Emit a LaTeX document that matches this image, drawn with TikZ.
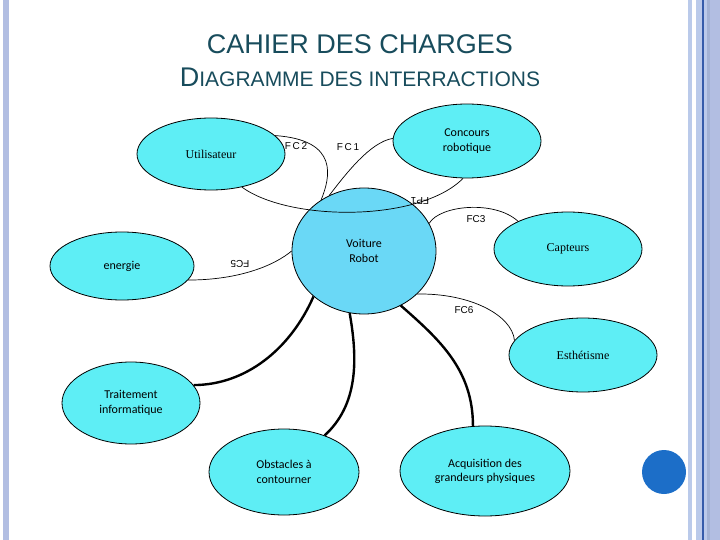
\documentclass[tikz,border=0pt]{standalone}
\usepackage{fontspec}
\setmainfont{Liberation Sans}
\newfontfamily\calfont{Carlito}
\newfontfamily\timesfont{Liberation Serif}
\usetikzlibrary{shapes.geometric}

\definecolor{titleteal}{RGB}{24,76,92}
\definecolor{ellcyan}{RGB}{94,238,245}
\definecolor{robotblue}{RGB}{106,216,246}
\definecolor{dotblue}{RGB}{28,110,200}
\definecolor{barblue}{RGB}{178,190,226}
\definecolor{barlight}{RGB}{186,202,234}
\definecolor{bardark}{RGB}{52,92,170}
\definecolor{bargrey}{RGB}{162,178,212}

\tikzset{
  actor/.style={ellipse, draw, line width=0.8pt, fill=ellcyan, inner sep=0pt, align=center,
    font=\calfont\fontsize{12}{15}\selectfont},
  serifactor/.style={actor, font=\timesfont\fontsize{12}{14}\selectfont},
  dims/.style 2 args={minimum width=#1, minimum height=#2},
  link/.style={line width=0.7pt},
  heavylink/.style={line width=2.4pt},
  fclabel/.style={font=\fontsize{10}{12}\selectfont, inner sep=1pt}
}

\begin{document}
\begin{tikzpicture}[x=1pt, y=-1pt]
  \useasboundingbox (0,0) rectangle (720,540);

  % slide borders
  \fill[barblue] (3,0) rectangle (9,540);
  \fill[barlight] (688,0) rectangle (692,540);
  \fill[barlight] (696,0) rectangle (702,540);
  \fill[bardark] (702,0) rectangle (703.5,540);
  \fill[barlight] (703.5,0) rectangle (707,540);
  \fill[bargrey] (707,0) rectangle (710,540);
  \fill[barblue] (710,0) rectangle (720,540);

  % title
  \node[anchor=base, text=titleteal, font=\fontsize{27}{32}\selectfont] (title) at (360,54)
    {CAHIER DES CHARGES};
  \node[anchor=base, text=titleteal, font=\fontsize{27}{32}\selectfont] (subtitle) at (360,87)
    {D{\fontsize{21}{25}\selectfont IAGRAMME DES INTERRACTIONS}};

  % the system
  \node[actor, fill=robotblue, dims={144pt}{126pt}] (robot) at (364,251) {Voiture\\Robot};

  % surrounding elements
  \node[serifactor, dims={148pt}{72pt}] (user) at (211,154) {Utilisateur};
  \node[actor, dims={148pt}{74pt}] (contest) at (467,141) {Concours\\robotique};
  \node[actor, dims={144pt}{68pt}] (energy) at (122,266) {energie};
  \node[serifactor, dims={148pt}{74pt}] (sensors) at (568,249) {Capteurs};
  \node[serifactor, dims={148pt}{74pt}] (looks) at (583,355) {Esth\'etisme};
  \node[actor, dims={138pt}{82pt}] (compute) at (131,403) {Traitement\\informatique};
  \node[actor, dims={150pt}{86pt}] (obstacles) at (284,472) {Obstacles \`a\\contourner};
  \node[actor, dims={170pt}{90pt}, font=\calfont\fontsize{12}{14}\selectfont] (acquire) at (485,471)
    {Acquisition des\\grandeurs physiques};

  % blue dot
  \node[circle, fill=dotblue, minimum size=44pt, inner sep=0pt] (dot) at (664,472) {};

  % functions
  \draw[link] (user.16) .. controls (340,140) and (330,178) .. (robot.130);
  \node[fclabel] (fc2) at (296,146) {F\,C\,2};
  \draw[link] (contest.178) .. controls (370,142) and (345,175) .. (robot.122);
  \node[fclabel] (fc1) at (348,147) {F\,C\,1};
  \draw[link] (user.-47) .. controls (290,222) and (420,222) .. (contest.-96);
  \node[fclabel, rotate=180] (fp1) at (420,201) {FP1};
  \draw[link] (robot.23) .. controls (440,205) and (495,200) .. (sensors.151);
  \node[fclabel] (fc3) at (476,219) {FC3};
  \draw[link] (robot.-39) .. controls (470,293) and (512,315) .. (looks.168);
  \node[fclabel] (fc6) at (464,310) {FC6};
  \draw[link] (energy.-12) .. controls (240,280) and (275,265) .. (robot.180);
  \node[fclabel, rotate=180] (fc5) at (240,264) {FC5};

  % thick links
  \draw[heavylink] (compute.16) .. controls (245,385) and (290,350) .. (robot.-138);
  \draw[heavylink] (robot.-103) .. controls (358,360) and (358,405) .. (obstacles.42);
  \draw[heavylink] (robot.-56) .. controls (440,340) and (473,370) .. (acquire.105);
\end{tikzpicture}
\end{document}
